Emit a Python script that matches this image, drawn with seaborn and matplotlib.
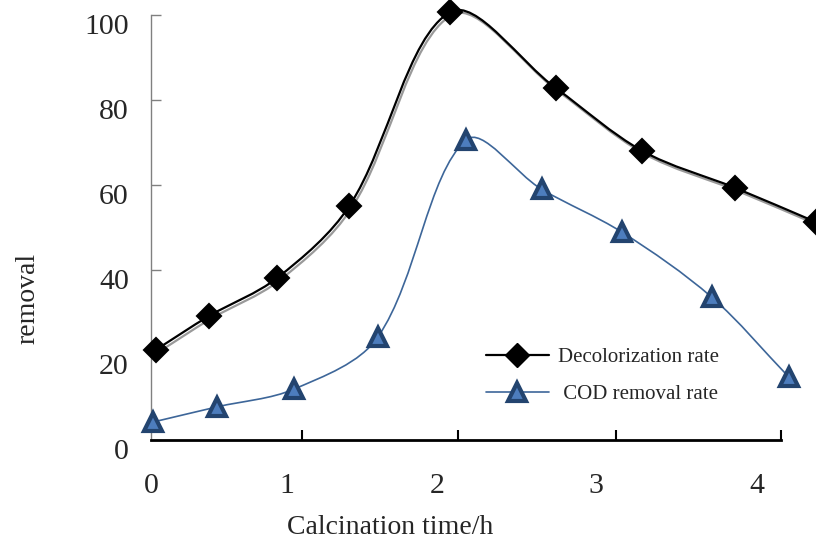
import numpy as np
import matplotlib
matplotlib.use("Agg")
import matplotlib.pyplot as plt
import matplotlib.patheffects as pe
import matplotlib.transforms as mtransforms
from matplotlib.path import Path
from matplotlib.patches import PathPatch
from matplotlib.lines import Line2D
import seaborn as sns

# values
decol_x = [0.03, 0.37, 0.80, 1.26, 1.90, 2.57, 3.12, 3.71, 4.22]
decol_y = [21.2, 29.2, 38.1, 55.1, 100.7, 82.8, 68.0, 59.3, 51.3]
cod_x = [0.01, 0.42, 0.91, 1.44, 2.00, 2.48, 2.99, 3.56, 4.05]
cod_y = [4.2, 7.8, 12.0, 24.2, 70.6, 59.0, 48.9, 33.6, 14.8]

ytick_vals = [0, 20, 40, 60, 80, 100]
xtick_marks = [0.957, 1.947, 2.950, 4.0]
xtick_label_pos = [0.0, 0.862, 1.814, 2.823, 3.846]
xtick_labels = ["0", "1", "2", "3", "4"]

sns.set_style("white")
plt.rcParams["font.family"] = ["Liberation Serif", "DejaVu Serif"]

W, H = 816, 542
fig = plt.figure(figsize=(W / 100, H / 100), dpi=100)
ax = fig.add_axes([151 / W, (H - 440) / H, (781 - 151) / W, (440 - 15) / H])
ax.set_xlim(0, 4)
ax.set_ylim(0, 100)


def smooth_path(xs, ys):
    # chord-length Catmull-Rom bezier in pixel space (spreadsheet-like smoothed line)
    pts = ax.transData.transform(np.column_stack([xs, ys]))
    n = len(pts)
    verts = [pts[0]]
    codes = [Path.MOVETO]

    def tangent(i):
        a = pts[max(i - 1, 0)]
        b = pts[min(i + 1, n - 1)]
        da = np.linalg.norm(pts[i] - a)
        db = np.linalg.norm(b - pts[i])
        return (b - a) / max(da + db, 1e-9)

    for i in range(n - 1):
        d = np.linalg.norm(pts[i + 1] - pts[i])
        c1 = pts[i] + tangent(i) * d / 3.0
        c2 = pts[i + 1] - tangent(i + 1) * d / 3.0
        verts += [c1, c2, pts[i + 1]]
        codes += [Path.CURVE4] * 3
    verts = ax.transData.inverted().transform(np.array(verts))
    return Path(verts, codes)


black_line = PathPatch(smooth_path(decol_x, decol_y), fill=False, edgecolor="black",
                       linewidth=1.6, clip_on=False, zorder=3)
black_line.set_path_effects([pe.SimpleLineShadow(offset=(1.3, -2.0), shadow_color="#9a9a9a",
                                                 alpha=1.0),
                             pe.Normal()])
ax.add_patch(black_line)

blue = "#3d6699"
tri_edge = "#23446f"
tri_face = "#4d7dbd"
blue_line = PathPatch(smooth_path(cod_x, cod_y), fill=False, edgecolor=blue,
                      linewidth=1.2, clip_on=False, zorder=3)
ax.add_patch(blue_line)

sns.lineplot(x=decol_x, y=decol_y, ax=ax, linestyle="", marker="D", markersize=12,
             color="black", markeredgecolor="black", markeredgewidth=1.5,
             clip_on=False, zorder=5, legend=False, sort=False)
sns.lineplot(x=cod_x, y=cod_y, ax=ax, linestyle="", marker="^", markersize=13,
             color=tri_face, markeredgecolor=tri_edge, markeredgewidth=3,
             clip_on=False, zorder=5, legend=False, sort=False)

# spines
for s in ["top", "right"]:
    ax.spines[s].set_visible(False)
ax.spines["left"].set_color("#808080")
ax.spines["left"].set_linewidth(1.0)
ax.spines["bottom"].set_color("black")
ax.spines["bottom"].set_linewidth(2.0)
ax.spines["bottom"].set_zorder(6)

ax.set_yticks(ytick_vals)
ax.set_yticklabels([str(v) for v in ytick_vals])
ax.tick_params(axis="y", direction="in", length=7.5, width=1.0, color="#808080",
               labelsize=21.5, pad=16, left=True)
dy = mtransforms.ScaledTranslation(0, -9 / 100, fig.dpi_scale_trans)
for lab in ax.get_yticklabels():
    lab.set_transform(lab.get_transform() + dy)

ax.set_xticks(xtick_marks)
ax.set_xticklabels([""] * len(xtick_marks))
ax.tick_params(axis="x", which="major", direction="in", length=7, width=1.5,
               color="black", bottom=True)
ax.set_xticks(xtick_label_pos, minor=True)
ax.set_xticklabels(xtick_labels, minor=True)
ax.tick_params(axis="x", which="minor", length=0, labelsize=21.5, pad=24, bottom=True)

ax.grid(False)

fig.text(390 / W, 1 - 528 / H, "Calcination time/h", fontsize=20, ha="center", va="center")
fig.text(28 / W, 1 - 298 / H, "removal", fontsize=20, rotation=90, ha="center", va="center")

handles = [
    Line2D([], [], color="black", linewidth=1.6, marker="D", markersize=12,
           markerfacecolor="black", markeredgecolor="black"),
    Line2D([], [], color=blue, linewidth=1.2, marker="^", markersize=13,
           markerfacecolor=tri_face, markeredgecolor=tri_edge, markeredgewidth=3),
]
fig.legend(handles, ["Decolorization rate", " COD removal rate"], loc="center left",
           bbox_to_anchor=(486 / W, 1 - 376 / H), bbox_transform=fig.transFigure,
           frameon=False, fontsize=15, handlelength=3.0, handletextpad=0.45,
           labelspacing=0.85, borderpad=0, borderaxespad=0)

fig.savefig("out.png", dpi=100)
